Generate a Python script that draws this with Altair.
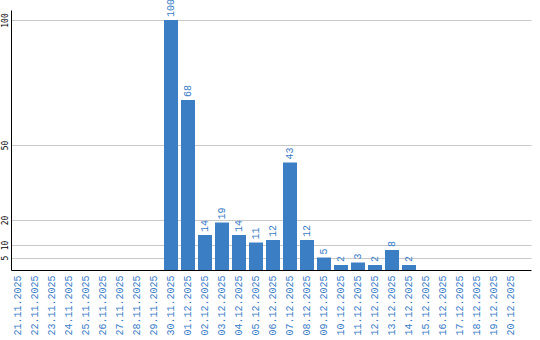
import altair as alt
import pandas as pd

dates = ["21.11.2025", "22.11.2025", "23.11.2025", "24.11.2025", "25.11.2025",
         "26.11.2025", "27.11.2025", "28.11.2025", "29.11.2025", "30.11.2025",
         "01.12.2025", "02.12.2025", "03.12.2025", "04.12.2025", "05.12.2025",
         "06.12.2025", "07.12.2025", "08.12.2025", "09.12.2025", "10.12.2025",
         "11.12.2025", "12.12.2025", "13.12.2025", "14.12.2025", "15.12.2025",
         "16.12.2025", "17.12.2025", "18.12.2025", "19.12.2025", "20.12.2025"]
values = [0, 0, 0, 0, 0, 0, 0, 0, 0, 100,
          68, 14, 19, 14, 11, 12, 43, 12, 5, 2,
          3, 2, 8, 2, 0, 0, 0, 0, 0, 0]
y_ticks = [5, 10, 20, 50, 100]

df = pd.DataFrame({"date": dates, "value": values})
df["label"] = df["value"].apply(lambda v: str(v) if v > 0 else "")

BLUE_BAR = "#3b7ec3"
BLUE_TXT = "#3a7cc6"
FONT = "Liberation Mono"

x = alt.X("date:N", sort=dates, title=None,
          scale=alt.Scale(paddingInner=0.1765, paddingOuter=0.382, align=0),
          axis=alt.Axis(labelAngle=270, labelAlign="right", labelBaseline="middle",
                        labelFont=FONT, labelFontSize=10, labelColor=BLUE_TXT,
                        labelPadding=5, ticks=False, domainColor="#000000",
                        domainWidth=1, grid=False))
y = alt.Y("value:Q", title=None,
          scale=alt.Scale(domain=[0, 104], nice=False),
          axis=alt.Axis(values=y_ticks, labelAngle=270, labelAlign="center",
                        labelBaseline="bottom", labelFont="DejaVu Sans Mono",
                        labelFontSize=8, labelColor="#000000", labelPadding=2,
                        ticks=False, domainColor="#000000", domainWidth=1,
                        grid=True, gridColor="#c8c8c8", gridWidth=1))

bars = alt.Chart(df).mark_bar(color=BLUE_BAR).encode(x=x, y=y)
text = alt.Chart(df).mark_text(angle=270, align="left", baseline="middle", dx=3,
                               font=FONT, fontSize=10, color=BLUE_TXT).encode(
    x=alt.X("date:N", sort=dates), y="value:Q", text="label:N")

chart = alt.layer(bars, text).properties(
    width=520, height=260,
    background="#ffffff",
    autosize=alt.AutoSizeParams(type="none"),
    padding={"left": 11, "top": 10, "right": 9, "bottom": 70},
).configure_view(strokeWidth=0, stroke="transparent")

chart.save("out.html", embed_options={"renderer": "svg", "actions": False})
